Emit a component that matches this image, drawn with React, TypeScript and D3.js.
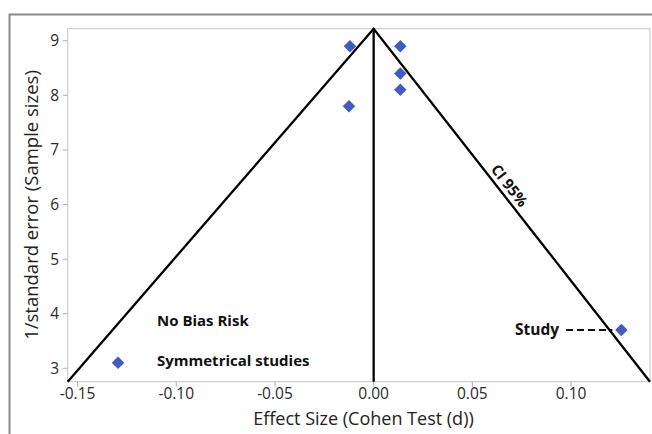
import React from "react";
import * as d3 from "d3";

const studyX = [-0.012, 0.0135, 0.0135, 0.0135, -0.0125, 0.1255, -0.1295];
const studyY = [8.9, 8.9, 8.4, 8.1, 7.8, 3.7, 3.1];
const xTicks = [-0.15, -0.1, -0.05, 0.0, 0.05, 0.1];
const yTicks = [3, 4, 5, 6, 7, 8, 9];
const funnelX = [-0.155, 0.0, 0.14];
const funnelY = [2.755, 9.22, 2.755];
const xDomain = [-0.155, 0.14];
const yDomain = [2.755, 9.22];

const W = 652;
const H = 434;
const L = 67.7;
const R = 650;
const T = 28.7;
const B = 381.7;
const FONT = "'Open Sans', 'Noto Sans', sans-serif";

export default function App() {
  const x = d3.scaleLinear().domain(xDomain).range([L, R]);
  const y = d3.scaleLinear().domain(yDomain).range([B, T]);
  const fmt = (v: number) => (v === 0 ? "0.00" : v.toFixed(2));
  const line = d3
    .line<number>()
    .x((_, i) => x(funnelX[i]))
    .y((_, i) => y(funnelY[i]));
  const apexX = x(funnelX[1]);
  const apexY = y(funnelY[1]);
  const rEndX = x(funnelX[2]);
  const rEndY = y(funnelY[2]);
  const angle = (Math.atan2(rEndY - apexY, rEndX - apexX) * 180) / Math.PI;
  const t = 0.462;
  const lx = apexX + (rEndX - apexX) * t;
  const ly = apexY + (rEndY - apexY) * t;
  const rad = (angle * Math.PI) / 180;
  const off = 5;
  const cx = lx + Math.sin(rad) * off;
  const cy = ly - Math.cos(rad) * off;
  const diamond = d3.symbol().type(d3.symbolDiamond2).size(100)();
  const studyPt = { x: x(studyX[5]), y: y(studyY[5]) };

  return (
    <svg
      width={W}
      height={H}
      style={{ position: "absolute", left: 0, top: 0, background: "#fff" }}
      fontFamily={FONT}
    >
      <rect x={0} y={0} width={W} height={H} fill="#fff" />
      <path d={`M9.5,${H} L9.5,14.5 L${W},14.5`} fill="none" stroke="#8a8a8a" strokeWidth={2} />
      <rect x={L} y={T} width={R - L} height={B - T} fill="none" stroke="#c4c4c4" strokeWidth={1} />
      {xTicks.map((v) => (
        <g key={"x" + v}>
          <line x1={x(v)} x2={x(v)} y1={B} y2={B + 5} stroke="#b0b0b0" />
          <text x={x(v)} y={B + 17.5} textAnchor="middle" fontSize={15.5} fill="#2a2a2a">
            {fmt(v)}
          </text>
        </g>
      ))}
      {yTicks.map((v) => (
        <g key={"y" + v}>
          <line x1={L - 5} x2={L} y1={y(v)} y2={y(v)} stroke="#b0b0b0" />
          <text x={L - 8.5} y={y(v) + 5.5} textAnchor="end" fontSize={15.5} fill="#2a2a2a">
            {v}
          </text>
        </g>
      ))}
      <path d={line(funnelX) || ""} fill="none" stroke="#000" strokeWidth={2.3} />
      <line x1={apexX} x2={apexX} y1={apexY} y2={B} stroke="#000" strokeWidth={2.3} />
      <text
        transform={`translate(${cx},${cy}) rotate(${angle})`}
        textAnchor="middle"
        fontSize={15}
        fontWeight="bold"
        fill="#111"
      >
        CI 95%
      </text>
      {studyX.map((v, i) => (
        <path key={"p" + i} d={diamond || ""} transform={`translate(${x(v)},${y(studyY[i])})`} fill="#3f5cc2" />
      ))}
      <text x={157} y={326} fontSize={15} fontWeight="bold" fill="#111">
        No Bias Risk
      </text>
      <text x={157} y={366} fontSize={15} fontWeight="bold" fill="#111">
        Symmetrical studies
      </text>
      <text x={515} y={335} fontSize={15.5} fontWeight="bold" fill="#111">
        Study
      </text>
      <line
        x1={566}
        x2={studyPt.x - 9}
        y1={studyPt.y}
        y2={studyPt.y}
        stroke="#111"
        strokeWidth={2}
        strokeDasharray="7,4"
      />
      <text x={363.5} y={425} textAnchor="middle" fontSize={18} fill="#222">
        Effect Size (Cohen Test (d))
      </text>
      <text
        transform={`translate(38,205) rotate(-90)`}
        textAnchor="middle"
        fontSize={18.5}
        fill="#222"
      >
        1/standard error (Sample sizes)
      </text>
    </svg>
  );
}
